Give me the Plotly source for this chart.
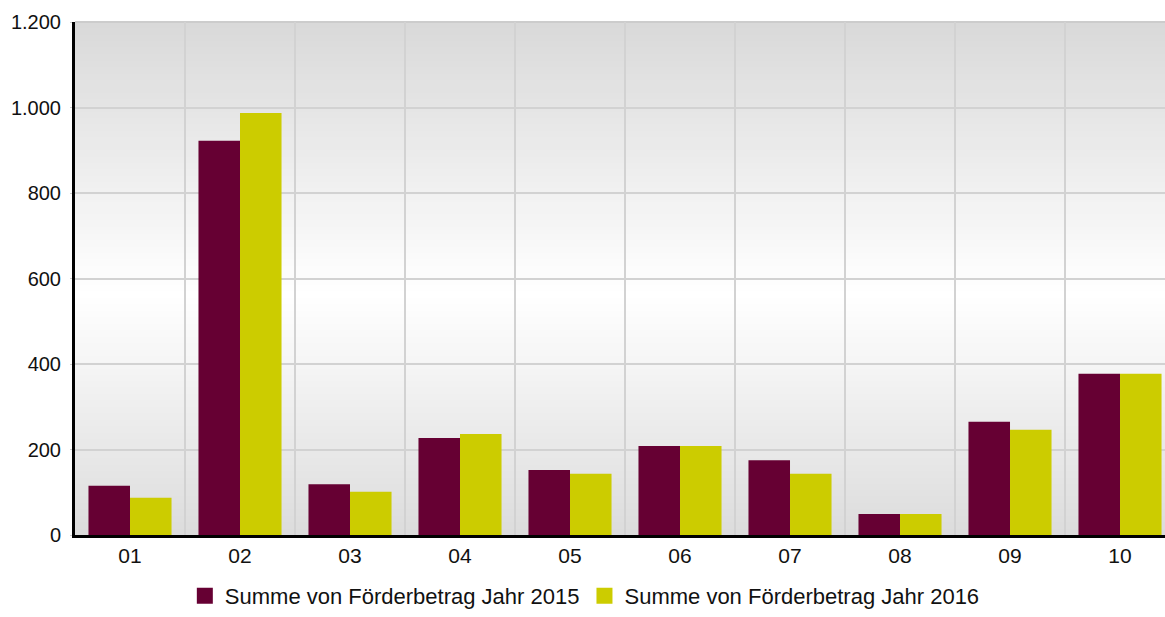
import plotly.graph_objects as go

categories = ["01", "02", "03", "04", "05", "06", "07", "08", "09", "10"]
values_2015 = [115, 922, 119, 227, 152, 208, 175, 49, 265, 377]
values_2016 = [87, 987, 101, 236, 143, 208, 143, 49, 246, 377]
series_names = ["Summe von Förderbetrag Jahr 2015", "Summe von Förderbetrag Jahr 2016"]
colors = ["#660033", "#cccc00"]

fig = go.Figure()
for vals, name, col in zip([values_2015, values_2016], series_names, colors):
    fig.add_trace(go.Bar(x=categories, y=vals, name=name, showlegend=False,
                         marker=dict(color=col, line=dict(width=0))))
# legend entries with large square swatches
for name, col in zip(series_names, colors):
    fig.add_trace(go.Scatter(x=[None], y=[None], mode="markers", name=name,
                             marker=dict(symbol="square", size=22, color=col), showlegend=True))

# vertical gradient background (grey - white - grey) as thin bands
shapes = []
n = 80
for i in range(n):
    f0 = i / n
    f1 = (i + 1) / n
    fm = (f0 + f1) / 2  # 0 bottom, 1 top
    mid = 0.47
    if fm < mid:
        g = 220 + (255 - 220) * (fm / mid)
    else:
        g = 255 - (255 - 217) * ((fm - mid) / (1 - mid))
    g = int(round(g))
    shapes.append(dict(type="rect", xref="x domain", yref="y domain", x0=0, x1=1, y0=f0, y1=f1 + 0.002,
                       fillcolor=f"rgb({g},{g},{g})", line=dict(width=0), layer="below"))
shapes.append(dict(type="line", xref="x domain", yref="y domain", x0=0, x1=1, y0=1, y1=1,
                   line=dict(color="#cccccc", width=2), layer="below"))

fig.update_layout(
    width=1165, height=617,
    margin=dict(l=75, r=0, t=22, b=82),
    paper_bgcolor="white", plot_bgcolor="white",
    font=dict(family="Liberation Sans, Arial, sans-serif", size=20, color="#111111"),
    separators=",.",
    barmode="group", bargap=0.245, bargroupgap=0,
    shapes=shapes,
    legend=dict(orientation="h", xref="container", x=0.502, xanchor="center",
                yref="container", y=0.0, yanchor="bottom",
                font=dict(size=22), itemsizing="trace", traceorder="normal", tracegroupgap=0,
                itemwidth=30),
    xaxis=dict(type="category", range=[-0.5, 9.409], tickson="boundaries", showgrid=True,
               gridcolor="#d2d2d2", gridwidth=2, showline=True, linecolor="black", linewidth=3,
               ticks="", ticklen=0, fixedrange=True, tickfont=dict(size=21), automargin=False),
    yaxis=dict(range=[0, 1200], dtick=200, tickformat=",d", showgrid=True, gridcolor="#d2d2d2",
               gridwidth=2, showline=True, linecolor="black", linewidth=3, ticks="outside",
               ticklen=2, tickcolor="#cccccc", zeroline=False, ticklabelstandoff=5,
               tickfont=dict(size=20), automargin=False),
)

fig.write_html("out.html", config={"displayModeBar": False},
               post_script="document.body.style.margin='0';")
